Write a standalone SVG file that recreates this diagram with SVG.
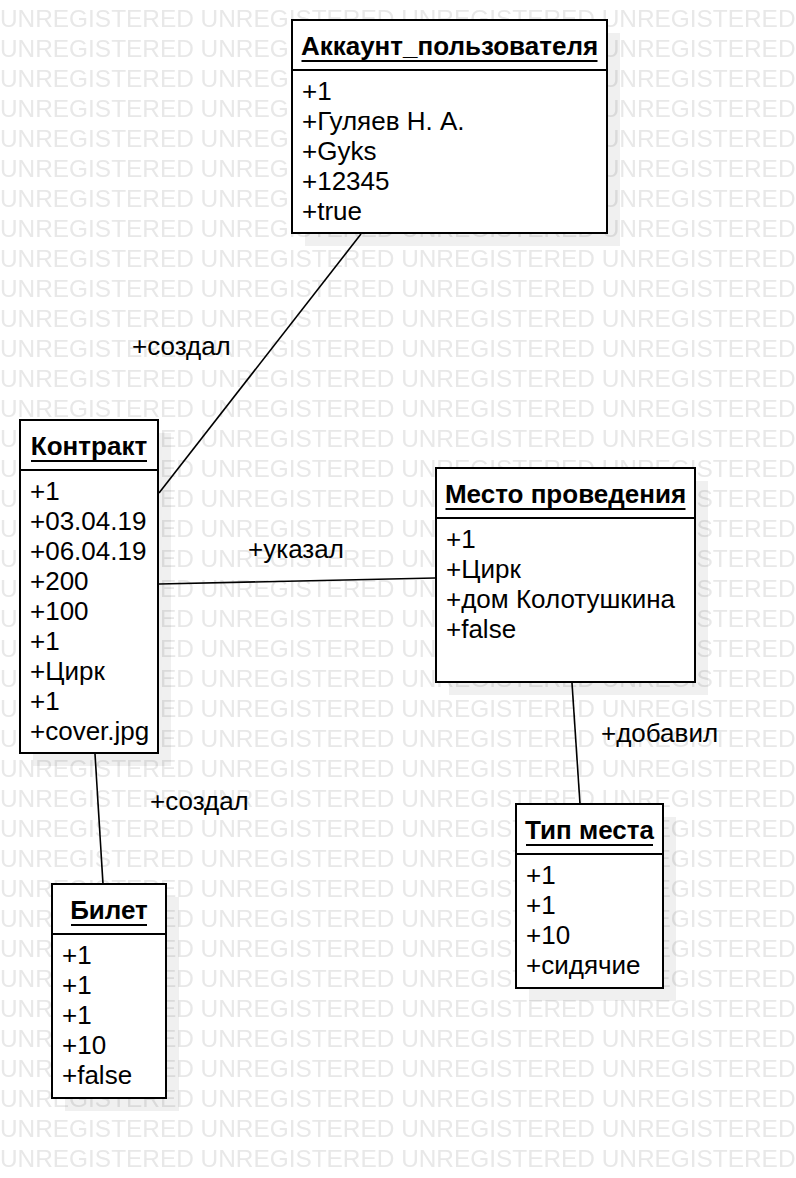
<svg xmlns="http://www.w3.org/2000/svg" width="796" height="1178" viewBox="0 0 796 1178">
<style>
  text{font-family:"Liberation Sans",Arial,sans-serif;fill:#000}
  .wm{font-size:24.4px;fill:#e8e8e8}
  .box{fill:#fff;stroke:#000;stroke-width:2}
  .sh{fill:#000;fill-opacity:0.06}
  .div{stroke:#000;stroke-width:2}
  .title{font-size:26px;font-weight:bold;text-anchor:middle}
  .ul{stroke:#000;stroke-width:2}
  .attr{font-size:26px}
  .conn{stroke:#000;stroke-width:1.6;fill:none}
  .lbl{font-size:26px}
</style>
<defs>
  <pattern id="wm" x="0" y="0" width="800" height="30" patternUnits="userSpaceOnUse">
    <text class="wm" x="0" y="27">UNREGISTERED UNREGISTERED UNREGISTERED UNREGISTERED</text>
  </pattern>
</defs>
<rect width="796" height="1178" fill="#fff"/>
<rect width="796" height="1178" fill="url(#wm)"/>

<g id="connectors">
  <line class="conn" x1="361" y1="234" x2="159" y2="493"/>
  <line class="conn" x1="159" y1="584" x2="435" y2="578"/>
  <line class="conn" x1="95" y1="754" x2="103" y2="884"/>
  <line class="conn" x1="572" y1="683" x2="580" y2="804"/>
  <text class="lbl" x="132" y="355">+создал</text>
  <text class="lbl" x="248" y="558">+указал</text>
  <text class="lbl" x="150" y="810">+создал</text>
  <text class="lbl" x="601" y="742">+добавил</text>
</g>

<g id="account">
  <rect class="sh" x="305" y="33" width="315" height="213"/>
  <rect class="box" x="292" y="20" width="315" height="213"/>
  <line class="div" x1="292" y1="70" x2="607" y2="70"/>
  <text class="title" x="449.5" y="55">Аккаунт_пользователя</text>
  <line class="ul" x1="301.5" y1="61" x2="597.5" y2="61"/>
  <text class="attr" x="302" y="100">+1<tspan x="302" dy="30">+Гуляев Н. А.</tspan><tspan x="302" dy="30">+Gyks</tspan><tspan x="302" dy="30">+12345</tspan><tspan x="302" dy="30">+true</tspan></text>
</g>

<g id="contract">
  <rect class="sh" x="33" y="433" width="138" height="333"/>
  <rect class="box" x="20" y="420" width="138" height="333"/>
  <line class="div" x1="20" y1="470" x2="158" y2="470"/>
  <text class="title" x="89" y="455">Контракт</text>
  <line class="ul" x1="31" y1="461" x2="147" y2="461"/>
  <text class="attr" x="30" y="500">+1<tspan x="30" dy="30">+03.04.19</tspan><tspan x="30" dy="30">+06.04.19</tspan><tspan x="30" dy="30">+200</tspan><tspan x="30" dy="30">+100</tspan><tspan x="30" dy="30">+1</tspan><tspan x="30" dy="30">+Цирк</tspan><tspan x="30" dy="30">+1</tspan><tspan x="30" dy="30">+cover.jpg</tspan></text>
</g>

<g id="venue">
  <rect class="sh" x="449" y="481" width="259" height="214"/>
  <rect class="box" x="436" y="468" width="259" height="214"/>
  <line class="div" x1="436" y1="518" x2="695" y2="518"/>
  <text class="title" x="565.5" y="503">Место проведения</text>
  <line class="ul" x1="445.5" y1="509" x2="685.5" y2="509"/>
  <text class="attr" x="446" y="548">+1<tspan x="446" dy="30">+Цирк</tspan><tspan x="446" dy="30">+дом Колотушкина</tspan><tspan x="446" dy="30">+false</tspan></text>
</g>

<g id="seat-type">
  <rect class="sh" x="529" y="817" width="147" height="184"/>
  <rect class="box" x="516" y="804" width="147" height="184"/>
  <line class="div" x1="516" y1="854" x2="663" y2="854"/>
  <text class="title" x="589.5" y="839">Тип места</text>
  <line class="ul" x1="526" y1="845" x2="653" y2="845"/>
  <text class="attr" x="526" y="884">+1<tspan x="526" dy="30">+1</tspan><tspan x="526" dy="30">+10</tspan><tspan x="526" dy="30">+сидячие</tspan></text>
</g>

<g id="ticket">
  <rect class="sh" x="65" y="897" width="114" height="214"/>
  <rect class="box" x="52" y="884" width="114" height="214"/>
  <line class="div" x1="52" y1="934" x2="166" y2="934"/>
  <text class="title" x="109" y="919">Билет</text>
  <line class="ul" x1="71" y1="925" x2="147" y2="925"/>
  <text class="attr" x="62" y="964">+1<tspan x="62" dy="30">+1</tspan><tspan x="62" dy="30">+1</tspan><tspan x="62" dy="30">+10</tspan><tspan x="62" dy="30">+false</tspan></text>
</g>
</svg>
